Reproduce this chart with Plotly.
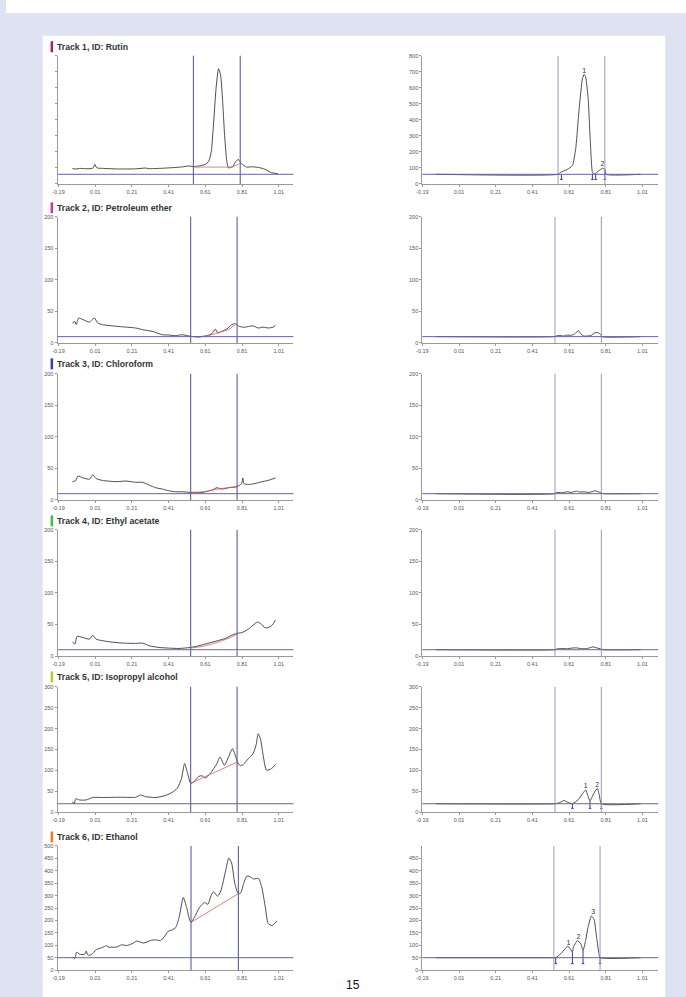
import plotly.graph_objects as go

W, H = 686, 997

# ---------------- data ----------------
titles = ["Track 1, ID: Rutin", "Track 2, ID: Petroleum ether", "Track 3, ID: Chloroform",
          "Track 4, ID: Ethyl acetate", "Track 5, ID: Isopropyl alcohol", "Track 6, ID: Ethanol"]
title_colors = ["#a3206a", "#c23a9a", "#2f3fae", "#33c04c", "#a8d430", "#f07a22"]

x_tickvals = [-0.19, 0.01, 0.21, 0.41, 0.61, 0.81, 1.01]
x_ticktext = ["-0.19", "0.01", "0.21", "0.41", "0.61", "0.81", "1.01"]

y_max = [800, 200, 200, 200, 300, 500]
y_step = [100, 50, 50, 50, 50, 50]
baselines = [60, 10, 10, 10, 20, 50]

win_left = [[0.545, 0.80], [0.53, 0.783], [0.53, 0.783], [0.53, 0.783], [0.53, 0.783], [0.532, 0.79]]
win_right = [[0.55, 0.805], [0.533, 0.786], [0.533, 0.786], [0.533, 0.786], [0.533, 0.786], [0.527, 0.779]]

# left (full) densitograms
t1_x = [-0.114, -0.093, -0.075, -0.048, -0.003, 0.008, 0.019, 0.05, 0.14, 0.23, 0.286, 0.304, 0.412, 0.484, 0.52,
        0.543, 0.574, 0.61, 0.628, 0.642, 0.655, 0.668, 0.682, 0.693, 0.704, 0.714, 0.727, 0.736, 0.758, 0.776,
        0.79, 0.808, 0.835, 0.862, 0.898, 0.934, 0.97, 1.006]
t1_y = [95, 93, 97, 95, 98, 121, 100, 97, 93, 94, 99, 95, 100, 106, 112, 108, 112, 122, 140, 200, 380, 590, 719,
        680, 520, 320, 140, 100, 108, 140, 152, 125, 105, 107, 103, 92, 70, 64]
t2_x = [-0.114, -0.1, -0.093, -0.08, -0.057, -0.021, -0.01, 0.006, 0.024, 0.05, 0.14, 0.23, 0.268, 0.32, 0.376,
        0.41, 0.446, 0.484, 0.53, 0.574, 0.62, 0.646, 0.664, 0.678, 0.7, 0.727, 0.754, 0.772, 0.79, 0.817, 0.844,
        0.87, 0.898, 0.925, 0.952, 0.979, 0.992]
t2_y = [31.6, 34, 29, 39.5, 37, 33, 36, 39.5, 31.6, 29, 26, 23.7, 21, 18.4, 13, 12.6, 11.5, 13, 10.5, 9.5, 11.6,
        14.7, 22, 15.8, 18.4, 22, 29, 30.5, 27, 24.7, 26, 27, 23.7, 25, 23.7, 25, 28]
t3_x = [-0.114, -0.096, -0.084, -0.057, -0.021, -0.003, 0.015, 0.05, 0.124, 0.178, 0.23, 0.268, 0.304, 0.34, 0.376,
        0.41, 0.45, 0.484, 0.53, 0.574, 0.61, 0.646, 0.673, 0.7, 0.736, 0.781, 0.808, 0.814, 0.82, 0.844, 0.88,
        0.916, 0.952, 0.992]
t3_y = [28.8, 31, 38, 35, 33, 40, 34, 31, 29, 30, 28, 28, 23.6, 19.4, 17.3, 14.7, 13, 13, 12, 11.5, 13, 15.7, 19.4,
        17.3, 19.4, 21, 26, 35, 26, 24.6, 26, 28.8, 31, 35]
t4_x = [-0.114, -0.1, -0.089, -0.057, -0.021, -0.003, 0.015, 0.087, 0.16, 0.23, 0.268, 0.304, 0.358, 0.41, 0.466,
        0.53, 0.574, 0.628, 0.673, 0.718, 0.754, 0.781, 0.808, 0.844, 0.87, 0.894, 0.916, 0.934, 0.952, 0.974, 0.992]
t4_y = [22.6, 19, 31, 29.4, 26.8, 33, 26.8, 22.6, 20.5, 20, 20.5, 16.3, 13.6, 12.6, 12, 13.6, 16.3, 20.5, 24, 27.8,
        33, 36, 37, 42.5, 48.8, 54, 50.4, 45, 45, 49, 57]
t5_x = [-0.114, -0.105, -0.096, -0.075, -0.04, -0.003, 0.05, 0.14, 0.23, 0.257, 0.285, 0.34, 0.394, 0.43, 0.457,
        0.48, 0.497, 0.516, 0.53, 0.552, 0.574, 0.592, 0.61, 0.637, 0.673, 0.69, 0.714, 0.736, 0.758, 0.776, 0.785,
        0.8, 0.817, 0.844, 0.87, 0.886, 0.898, 0.91, 0.925, 0.943, 0.97, 0.992]
t5_y = [25, 20, 32, 29, 29, 35, 35, 35.6, 35.6, 41, 37, 35, 40, 47.5, 57, 80.7, 116, 88.6, 69, 74, 85.5, 87, 82,
        92.6, 116, 132, 112, 132, 152, 132, 120, 111, 114, 128, 140, 160, 187.6, 176, 136, 100.5, 104, 114]
t6_x = [-0.113, -0.103, -0.09, -0.076, -0.048, -0.039, -0.03, -0.011, 0.016, 0.044, 0.062, 0.07, 0.08, 0.127, 0.154,
        0.182, 0.21, 0.237, 0.256, 0.274, 0.31, 0.338, 0.366, 0.385, 0.408, 0.43, 0.449, 0.467, 0.49, 0.508, 0.523,
        0.532, 0.55, 0.578, 0.605, 0.624, 0.642, 0.655, 0.676, 0.694, 0.716, 0.738, 0.753, 0.771, 0.79, 0.804,
        0.817, 0.836, 0.849, 0.873, 0.9, 0.918, 0.937, 0.952, 0.974, 0.992, 1.0]
t6_y = [53, 46, 73, 64, 64, 77, 60, 62, 82, 90, 95.5, 99, 93, 93, 102, 99, 106, 117, 113, 109, 119, 122, 119, 133,
        156.5, 162, 172, 212, 292, 252, 205.6, 192, 212, 252, 272, 265, 302, 315.6, 298, 318, 384.6, 451, 431,
        347.5, 307.7, 311.7, 345, 378, 378, 367, 368.7, 331.6, 252, 188, 179, 192, 196]

# red integration baselines (left)
r1_x = [0.543, 0.756, 0.795]; r1_y = [105, 105, 126]
r2_x = [0.53, 0.574, 0.628, 0.682, 0.736, 0.772]; r2_y = [10.5, 9.5, 11.6, 15.8, 21, 28.5]
r3_x = [0.53, 0.6, 0.673, 0.736, 0.781]; r3_y = [12, 13, 17, 19.5, 21.5]
r4_x = [0.53, 0.6, 0.68, 0.74, 0.785]; r4_y = [12.6, 15.5, 22, 28.5, 35]
r5_x = [0.53, 0.785]; r5_y = [69, 120]
r6_x = [0.532, 0.79]; r6_y = [192, 308]

# right (baseline-corrected window) densitograms
p1_x = [-0.117, 0.55, 0.565, 0.6, 0.628, 0.646, 0.665, 0.683, 0.692, 0.7, 0.714, 0.725, 0.737, 0.746, 0.774,
        0.792, 0.805, 0.812, 1.0]
p1_y = [60, 60, 73, 90, 115, 219, 470, 658, 683, 668, 533, 282, 73, 60, 84, 98, 90, 60, 60]
p2_x = [-0.117, 0.53, 0.54, 0.56, 0.58, 0.6, 0.62, 0.64, 0.66, 0.675, 0.69, 0.71, 0.73, 0.75, 0.765, 0.78, 0.79, 1.0]
p2_y = [10, 10, 11, 12, 11, 12.5, 12, 14, 19.5, 14, 11, 11, 12, 16, 16.5, 14, 10, 10]
p3_x = [-0.117, 0.53, 0.54, 0.57, 0.6, 0.62, 0.65, 0.67, 0.69, 0.72, 0.75, 0.77, 0.785, 0.8, 1.0]
p3_y = [10, 10, 12, 11.5, 13, 12, 14, 12.5, 13, 12, 14.5, 13, 11, 10, 10]
p4_x = [-0.117, 0.53, 0.54, 0.57, 0.6, 0.62, 0.65, 0.68, 0.71, 0.74, 0.76, 0.785, 0.795, 1.0]
p4_y = [10, 10, 11, 12, 11.5, 12.5, 13, 11.5, 12, 14.5, 13, 11, 10, 10]
p5_x = [-0.117, 0.53, 0.555, 0.583, 0.605, 0.628, 0.66, 0.685, 0.7, 0.712, 0.724, 0.745, 0.764, 0.775, 0.786, 1.0]
p5_y = [20, 20, 22, 27.7, 23, 20, 30, 45, 53, 40, 27, 45, 57, 40, 20, 20]
p6_x = [-0.117, 0.525, 0.537, 0.565, 0.6, 0.61, 0.628, 0.634, 0.655, 0.674, 0.686, 0.7, 0.713, 0.732, 0.746,
        0.76, 0.773, 0.779, 1.0]
p6_y = [50, 50, 50, 66, 95, 92.6, 73, 92.6, 119, 106, 79, 119, 172, 218, 205, 132, 66, 50, 50]

# peak numbers (right)
pk1_x = [0.692, 0.792]; pk1_y = [683, 98]; pk1_t = ["1", "2"]
pk5_x = [0.7, 0.764]; pk5_y = [53, 57]; pk5_t = ["1", "2"]
pk6_x = [0.606, 0.661, 0.741]; pk6_y = [95, 119, 218]; pk6_t = ["1", "2", "3"]

# peak boundary markers (right)
bd1_x = [0.568, 0.737, 0.755, 0.805]; bd1_top = [60, 62, 62, 94]; bd1_bot = 28
bd5_x = [0.628, 0.724, 0.786]; bd5_top = [20, 27, 20]; bd5_bot = 9
bd6_x = [0.537, 0.628, 0.686, 0.779]; bd6_top = [50, 73, 79, 50]; bd6_bot = 26

page_number = "15"

left_curves = [(t1_x, t1_y), (t2_x, t2_y), (t3_x, t3_y), (t4_x, t4_y), (t5_x, t5_y), (t6_x, t6_y)]
red_lines = [(r1_x, r1_y), (r2_x, r2_y), (r3_x, r3_y), (r4_x, r4_y), (r5_x, r5_y), (r6_x, r6_y)]
right_curves = [(p1_x, p1_y), (p2_x, p2_y), (p3_x, p3_y), (p4_x, p4_y), (p5_x, p5_y), (p6_x, p6_y)]
peak_labels = {0: (pk1_x, pk1_y, pk1_t), 4: (pk5_x, pk5_y, pk5_t), 5: (pk6_x, pk6_y, pk6_t)}
boundaries = {0: (bd1_x, bd1_top, bd1_bot), 4: (bd5_x, bd5_top, bd5_bot), 5: (bd6_x, bd6_top, bd6_bot)}

# ---------------- layout geometry (pixels) ----------------
track_top = [53, 215, 373, 530, 688, 848]
track_bot = [182, 342, 500, 657, 814, 973]
title_y = [44, 206, 363, 521, 678, 839]
left_dom = (52, 290)
right_dom = (420, 658)
left_range = [-0.195, 1.09]
right_range = [-0.19, 1.096]

FONT = "Liberation Sans, Arial, sans-serif"
AX = "#9a9a9a"
CURVE = "#3a3a3a"
VLINE_L = "#5f5f9c"
VLINE_R = "#a2a2c9"
HLINE = "#6464aa"
RED = "#d9605e"
MARK = "#3434a6"


def fx(p):
    return p / W


def fy(p):
    return 1 - p / H


fig = go.Figure()
shapes = []
annotations = []
layout = {}

# page background panel
shapes.append(dict(type="rect", xref="paper", yref="paper", x0=fx(37), x1=fx(665), y0=fy(1000), y1=fy(33),
                   fillcolor="white", line=dict(width=0), layer="below"))
shapes.append(dict(type="rect", xref="paper", yref="paper", x0=0, x1=1, y0=fy(10), y1=1.01,
                   fillcolor="white", line=dict(width=0), layer="below"))

for i in range(6):
    for side in range(2):
        n = 2 * i + side + 1
        xa = "x" if n == 1 else f"x{n}"
        ya = "y" if n == 1 else f"y{n}"
        xkey = "xaxis" if n == 1 else f"xaxis{n}"
        ykey = "yaxis" if n == 1 else f"yaxis{n}"
        dom = left_dom if side == 0 else right_dom
        rng = left_range if side == 0 else right_range
        ymax = y_max[i]
        tv = list(range(0, ymax + 1, y_step[i]))
        if side == 1 and i == 5:
            tv = [v for v in tv if v < ymax]
        show_lbl = not (side == 0 and i == 0)
        layout[xkey] = dict(domain=[fx(dom[0]), fx(dom[1])], range=rng, anchor=ya,
                            tickvals=x_tickvals, ticktext=x_ticktext, showline=True, linecolor=AX,
                            linewidth=1, ticks="outside", ticklen=2, tickcolor=AX, showgrid=False,
                            zeroline=False, tickfont=dict(family=FONT, size=5.5, color="#555"),
                            fixedrange=True)
        layout[ykey] = dict(domain=[fy(track_bot[i]), fy(track_top[i])], range=[0, ymax], anchor=xa,
                            tickvals=tv, showticklabels=show_lbl, showline=True, linecolor=AX,
                            linewidth=1, ticks="outside", ticklen=2, tickcolor=AX, showgrid=False,
                            zeroline=False, tickfont=dict(family=FONT, size=5.5, color="#555"),
                            fixedrange=True)

        win = win_left[i] if side == 0 else win_right[i]
        for wx in win:
            shapes.append(dict(type="line", xref=xa, yref=f"{ya} domain", x0=wx, x1=wx, y0=0, y1=1,
                               line=dict(color=VLINE_L if side == 0 else VLINE_R, width=1.1)))
        shapes.append(dict(type="line", xref=f"{xa} domain", yref=ya, x0=0, x1=1,
                           y0=baselines[i], y1=baselines[i], line=dict(color=HLINE, width=1)))

        if side == 0:
            cx, cy = left_curves[i]
            fig.add_trace(go.Scatter(x=cx, y=cy, mode="lines", xaxis=xa, yaxis=ya,
                                     line=dict(color=CURVE, width=0.9, shape="spline", smoothing=0.6),
                                     hoverinfo="skip"))
            rx, ry = red_lines[i]
            fig.add_trace(go.Scatter(x=rx, y=ry, mode="lines", xaxis=xa, yaxis=ya,
                                     line=dict(color=RED, width=0.8), hoverinfo="skip"))
        else:
            cx, cy = right_curves[i]
            fig.add_trace(go.Scatter(x=cx, y=cy, mode="lines", xaxis=xa, yaxis=ya,
                                     line=dict(color=CURVE, width=0.9, shape="spline", smoothing=0.5),
                                     hoverinfo="skip"))
            if i in boundaries:
                bx, btop, bbot = boundaries[i]
                xs, ys = [], []
                for b, t in zip(bx, btop):
                    xs += [b, b, None, b - 0.007, b + 0.007, None]
                    ys += [t, bbot, None, bbot, bbot, None]
                fig.add_trace(go.Scatter(x=xs, y=ys, mode="lines", xaxis=xa, yaxis=ya,
                                         line=dict(color=MARK, width=1), hoverinfo="skip"))
            if i in peak_labels:
                lx, ly, lt = peak_labels[i]
                fig.add_trace(go.Scatter(x=lx, y=ly, mode="text", text=lt, textposition="top center",
                                         xaxis=xa, yaxis=ya, textfont=dict(family=FONT, size=7, color="#333"),
                                         hoverinfo="skip"))

    # track title
    shapes.append(dict(type="rect", xref="paper", yref="paper", x0=fx(45), x1=fx(47.5),
                       y0=fy(title_y[i] + 5.5), y1=fy(title_y[i] - 5.5),
                       fillcolor=title_colors[i], line=dict(width=0)))
    annotations.append(dict(xref="paper", yref="paper", x=fx(49.5), y=fy(title_y[i]), xanchor="left",
                            yanchor="middle", showarrow=False, text=f"<b>{titles[i]}</b>",
                            font=dict(family=FONT, size=8.7, color="#333")))

annotations.append(dict(xref="paper", yref="paper", x=fx(350), y=fy(997), xanchor="center", yanchor="bottom",
                        showarrow=False, text=page_number, font=dict(family=FONT, size=12, color="#111")))

fig.update_layout(width=W, height=H, autosize=False, margin=dict(l=0, r=0, t=0, b=0),
                  paper_bgcolor="#dfe2f1", plot_bgcolor="rgba(0,0,0,0)", showlegend=False,
                  shapes=shapes, annotations=annotations, **layout)

fig.write_html("out.html", config={"displayModeBar": False, "staticPlot": True},
               post_script="document.body.style.margin='0';document.body.style.overflow='hidden';")
